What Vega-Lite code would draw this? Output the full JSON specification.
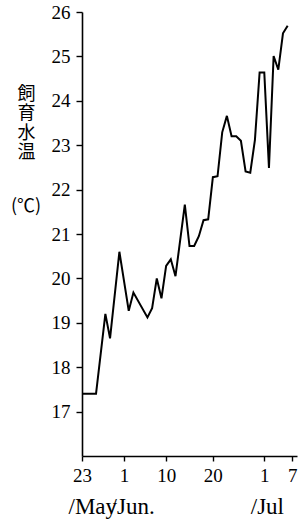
{
  "$schema": "https://vega.github.io/schema/vega-lite/v6.json",
  "width": 215,
  "height": 444,
  "autosize": "none",
  "padding": {"left": 82, "top": 12, "right": 1, "bottom": 72},
  "background": "white",
  "title": {"text": "(℃)", "orient": "top", "anchor": "start", "frame": "group", "offset": 0, "font": "Noto Sans CJK JP", "fontSize": 18, "fontWeight": "normal", "color": "black", "align": "center", "baseline": "middle", "dx": -56, "dy": 222},
  "config": {
    "view": {"stroke": null},
    "axis": {"grid": false, "domainColor": "black", "tickColor": "black", "labelColor": "black", "titleColor": "black", "labelFont": "Liberation Serif", "domainWidth": 1.6, "tickWidth": 1.4}
  },
  "data": {"values": [
    {"date": "2020-05-23T00:00:00", "temp": 17.4},
    {"date": "2020-05-26T00:00:00", "temp": 17.4},
    {"date": "2020-05-28T00:00:00", "temp": 19.2},
    {"date": "2020-05-29T00:00:00", "temp": 18.65},
    {"date": "2020-05-31T00:00:00", "temp": 20.6},
    {"date": "2020-06-02T00:00:00", "temp": 19.27},
    {"date": "2020-06-03T00:00:00", "temp": 19.68},
    {"date": "2020-06-06T00:00:00", "temp": 19.12},
    {"date": "2020-06-07T00:00:00", "temp": 19.33},
    {"date": "2020-06-08T00:00:00", "temp": 20.0},
    {"date": "2020-06-09T00:00:00", "temp": 19.55},
    {"date": "2020-06-10T00:00:00", "temp": 20.28},
    {"date": "2020-06-11T00:00:00", "temp": 20.43},
    {"date": "2020-06-12T00:00:00", "temp": 20.05},
    {"date": "2020-06-14T00:00:00", "temp": 21.66},
    {"date": "2020-06-15T00:00:00", "temp": 20.73},
    {"date": "2020-06-16T00:00:00", "temp": 20.73},
    {"date": "2020-06-17T00:00:00", "temp": 20.95},
    {"date": "2020-06-18T00:00:00", "temp": 21.31},
    {"date": "2020-06-19T00:00:00", "temp": 21.33},
    {"date": "2020-06-20T00:00:00", "temp": 22.28},
    {"date": "2020-06-21T00:00:00", "temp": 22.3},
    {"date": "2020-06-22T00:00:00", "temp": 23.29},
    {"date": "2020-06-23T00:00:00", "temp": 23.66},
    {"date": "2020-06-24T00:00:00", "temp": 23.2},
    {"date": "2020-06-25T00:00:00", "temp": 23.2},
    {"date": "2020-06-26T00:00:00", "temp": 23.1},
    {"date": "2020-06-27T00:00:00", "temp": 22.41},
    {"date": "2020-06-28T00:00:00", "temp": 22.38},
    {"date": "2020-06-29T00:00:00", "temp": 23.12},
    {"date": "2020-06-30T00:00:00", "temp": 24.64},
    {"date": "2020-07-01T00:00:00", "temp": 24.64},
    {"date": "2020-07-02T00:00:00", "temp": 22.49},
    {"date": "2020-07-03T00:00:00", "temp": 25.01},
    {"date": "2020-07-04T00:00:00", "temp": 24.7},
    {"date": "2020-07-05T00:00:00", "temp": 25.52},
    {"date": "2020-07-06T00:00:00", "temp": 25.69}
  ]},
  "layer": [
    {
      "mark": {"type": "line", "color": "black", "strokeWidth": 2},
      "encoding": {
        "x": {
          "field": "date", "type": "temporal",
          "scale": {"domain": [{"year": 2020, "month": 5, "date": 23}, {"year": 2020, "month": 7, "date": 8}]},
          "axis": {
            "title": null,
            "values": [
              {"year": 2020, "month": 5, "date": 23},
              {"year": 2020, "month": 6, "date": 1},
              {"year": 2020, "month": 6, "date": 10},
              {"year": 2020, "month": 6, "date": 20},
              {"year": 2020, "month": 7, "date": 1},
              {"year": 2020, "month": 7, "date": 7}
            ],
            "labelExpr": "timeFormat(datum.value, '%-d')",
            "labelFont": "Liberation Serif",
            "tickSize": 5, "labelPadding": 5, "labelFontSize": 19,
            "labelFlush": false, "labelOverlap": false, "labelBound": false
          }
        },
        "y": {
          "field": "temp", "type": "quantitative",
          "scale": {"domain": [16, 26], "nice": false, "zero": false},
          "axis": {
            "values": [17, 18, 19, 20, 21, 22, 23, 24, 25, 26],
            "labelFont": "Liberation Serif",
            "tickSize": 6, "labelPadding": 6, "labelFontSize": 19,
            "title": ["飼", "育", "水", "温"],
            "titleAngle": 0, "titleX": -56, "titleY": 73,
            "titleAlign": "center", "titleBaseline": "top",
            "titleFont": "Noto Sans CJK JP", "titleFontSize": 18, "titleFontWeight": "normal", "titleLineHeight": 19.5
          }
        }
      }
    },
    {
      "mark": {"type": "line", "opacity": 0},
      "encoding": {
        "x": {
          "field": "date", "type": "temporal",
          "axis": {
            "orient": "bottom", "title": null, "domain": false, "ticks": false,
            "offset": 37, "labelPadding": 2,
            "values": [
              {"year": 2020, "month": 5, "date": 23},
              {"year": 2020, "month": 6, "date": 1},
              {"year": 2020, "month": 7, "date": 1}
            ],
            "labelExpr": "month(datum.value) == 4 ? '/May' : (month(datum.value) == 5 ? '\u00a0\u00a0/Jun.' : '/Jul')",
            "labelFont": "Liberation Serif",
            "labelAlign": "left", "labelOffset": -14, "labelFontSize": 23,
            "labelFlush": false, "labelOverlap": false, "labelBound": false
          }
        },
        "y": {
          "field": "temp", "type": "quantitative",
          "axis": {
            "values": [17, 18, 19, 20, 21, 22, 23, 24, 25, 26],
            "labelFont": "Liberation Serif",
            "tickSize": 6, "labelPadding": 6, "labelFontSize": 19,
            "title": ["飼", "育", "水", "温"],
            "titleAngle": 0, "titleX": -56, "titleY": 73,
            "titleAlign": "center", "titleBaseline": "top",
            "titleFont": "Noto Sans CJK JP", "titleFontSize": 18, "titleFontWeight": "normal", "titleLineHeight": 19.5
          }
        }
      }
    }
  ],
  "resolve": {"axis": {"x": "independent"}}
}
